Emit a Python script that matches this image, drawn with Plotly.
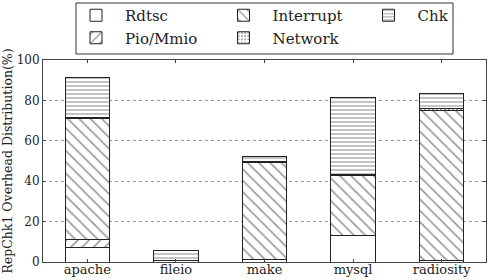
import plotly.graph_objects as go

categories = ["apache", "fileio", "make", "mysql", "radiosity"]
rdtsc = [7.1, 0.6, 1.2, 12.9, 0.5]
pio_mmio = [3.8, 0.0, 0.0, 0.0, 0.0]
interrupt = [60.2, 0.3, 48.2, 30.1, 74.6]
network = [0.6, 0.0, 0.6, 0.3, 0.7]
chk = [19.7, 4.7, 2.3, 38.0, 7.5]

series = [
    ("Rdtsc", rdtsc, "", 8, 0.2, "legend"),
    ("Pio/Mmio", pio_mmio, "/", 8, 0.2, "legend"),
    ("Interrupt", interrupt, "\\", 8, 0.2, "legend2"),
    ("Network", network, ".", 4, 0.25, "legend2"),
    ("Chk", chk, "-", 4, 0.3, "legend3"),
]

fig = go.Figure()
for name, vals, shape, size, sol, leg in series:
    fig.add_trace(go.Bar(
        x=categories, y=vals, name=name, width=0.5, legend=leg,
        marker=dict(
            color="white",
            line=dict(color="#222222", width=1),
            pattern=dict(shape=shape, fgcolor="#333333", bgcolor="white",
                         size=size, solidity=sol, fillmode="overlay"),
        ),
    ))

font_family = "DejaVu Serif"
PL, PW, PT, PH = 43, 443, 60, 202


def px_x(p):
    return (p - PL) / PW


def px_y(p):
    return 1 + (PT - p) / PH


def legend_at(left_px):
    return dict(
        orientation="v", x=px_x(left_px), y=px_y(-1), xanchor="left", yanchor="top",
        traceorder="normal", borderwidth=0, bgcolor="rgba(0,0,0,0)",
        font=dict(family=font_family, size=15, color="#222222"),
        itemwidth=48, tracegroupgap=0,
    )


fig.update_layout(
    barmode="stack",
    width=489, height=280,
    margin=dict(l=PL, r=489 - PL - PW, t=PT, b=280 - PT - PH, autoexpand=False),
    paper_bgcolor="white", plot_bgcolor="white",
    font=dict(family=font_family, size=12, color="#222222"),
    showlegend=True,
    legend=legend_at(67),
    legend2=legend_at(214.5),
    legend3=legend_at(359.5),
    shapes=[dict(
        type="rect", xref="paper", yref="paper",
        x0=px_x(76), x1=px_x(453), y0=px_y(54), y1=px_y(3),
        line=dict(color="#333333", width=1), fillcolor="rgba(0,0,0,0)",
    )],
)
fig.update_xaxes(
    range=[-0.5, 4.5], showline=True, linecolor="#444444", linewidth=1,
    mirror="ticks", ticks="inside", ticklen=3, tickcolor="#444444",
    showgrid=False, tickfont=dict(size=13), ticklabelstandoff=-5,
)
fig.update_yaxes(
    range=[0, 100], dtick=20, showline=True, linecolor="#444444", linewidth=1,
    mirror="ticks", ticks="inside", ticklen=3, tickcolor="#444444",
    showgrid=True, gridcolor="#999999", griddash="dot", gridwidth=1,
    zeroline=False, tickfont=dict(size=12),
    title=dict(text="RepChk1 Overhead Distribution(%)", font=dict(size=12.5), standoff=2),
)

fig.write_html("out.html")
